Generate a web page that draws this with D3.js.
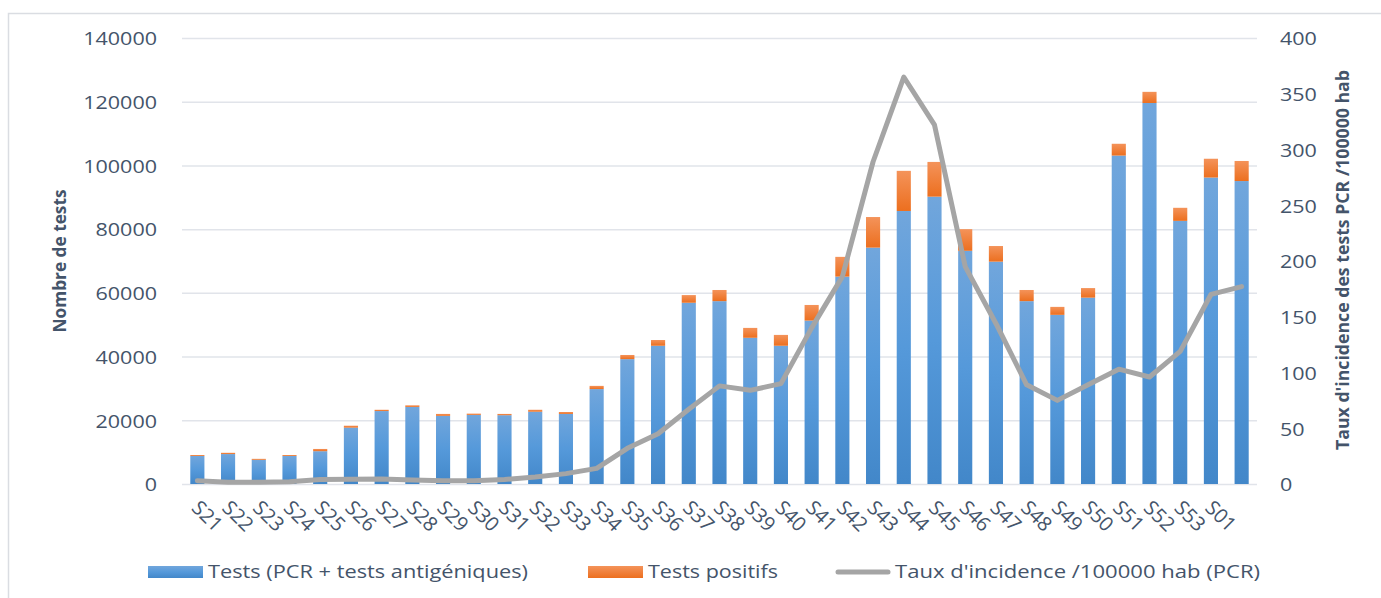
<!DOCTYPE html>
<html lang="fr">
<head>
    <meta charset="UTF-8">
    <title>Tests et taux d'incidence</title>
    <script src="https://d3js.org/d3.v7.min.js"></script>
    <style>
        body { margin: 0; background: #fff; }
        text { font-family: "Open Sans", "DejaVu Sans", sans-serif; fill: #44546a; }
        .grid line { stroke: #e1e4ea; stroke-width: 1.5; }
        .grid path { display: none; }
        .tick text { font-size: 19px; }
        .title { font-weight: bold; font-size: 17px; }
    </style>
</head>
<body>
<svg width="1381" height="598"></svg>

<script>
    var weeks = ["S21", "S22", "S23", "S24", "S25", "S26", "S27", "S28", "S29", "S30", "S31", "S32", "S33",
        "S34", "S35", "S36", "S37", "S38", "S39", "S40", "S41", "S42", "S43", "S44", "S45", "S46", "S47",
        "S48", "S49", "S50", "S51", "S52", "S53", "S01", "S02"];
    // the last week has no label on the original chart
    var weekLabels = weeks.slice(0, 34).concat([""]);

    var tests = [8800, 9400, 7600, 8800, 10300, 17700, 22900, 24200, 21400, 21700, 21600, 22700, 22000,
        29800, 39200, 43400, 56900, 57400, 45900, 43400, 51300, 65100, 74200, 85700, 90200, 73200, 69800,
        57400, 53100, 58500, 103100, 119600, 82600, 96200, 95100];
    var positifs = [300, 400, 300, 300, 700, 600, 400, 500, 600, 400, 400, 600, 600,
        1000, 1300, 1800, 2400, 3500, 3100, 3400, 4900, 6200, 9600, 12600, 10900, 6800, 4900,
        3500, 2500, 3000, 3700, 3500, 4100, 5900, 6300];
    var incidence = [3, 1.5, 1.5, 2, 4, 4.3, 4.5, 3.5, 3, 3, 4, 6.3, 9.3,
        14, 32, 45, 67, 88, 84, 90, 140, 186, 289, 365, 322, 195, 144,
        89, 75, 89, 103, 96, 119, 170, 177];

    var leftTicks = [0, 20000, 40000, 60000, 80000, 100000, 120000, 140000];
    var rightTicks = [0, 50, 100, 150, 200, 250, 300, 350, 400];

    var svg = d3.select("svg");
    var plotL = 182, plotR = 1257, plotT = 38, plotB = 484;

    var x = d3.scaleBand().domain(d3.range(weeks.length)).range([plotL, plotR])
        .paddingInner(0.54).paddingOuter(0.27);
    var y = d3.scaleLinear().domain([0, 140000]).range([plotB, plotT]);
    var y2 = d3.scaleLinear().domain([0, 400]).range([plotB, plotT]);

    // outer frame
    svg.append("rect")
        .attr("x", 8.5).attr("y", 13.5)
        .attr("width", 1400).attr("height", 620)
        .attr("fill", "none").attr("stroke", "#dadde2").attr("stroke-width", 1.5);

    var defs = svg.append("defs");
    var gb = defs.append("linearGradient").attr("id", "gBlue").attr("x1", 0).attr("y1", 0).attr("x2", 0).attr("y2", 1);
    gb.append("stop").attr("offset", "0%").attr("stop-color", "#71a6dc");
    gb.append("stop").attr("offset", "50%").attr("stop-color", "#5599da");
    gb.append("stop").attr("offset", "100%").attr("stop-color", "#4287c9");
    var go = defs.append("linearGradient").attr("id", "gOrange").attr("x1", 0).attr("y1", 0).attr("x2", 0).attr("y2", 1);
    go.append("stop").attr("offset", "0%").attr("stop-color", "#f4935a");
    go.append("stop").attr("offset", "100%").attr("stop-color", "#ec6f1f");

    // grid + left axis
    svg.append("g")
        .attr("class", "grid")
        .attr("transform", "translate(" + plotL + ",0)")
        .call(d3.axisLeft(y).tickValues(leftTicks).tickSize(-(plotR - plotL)).tickPadding(25)
            .tickFormat(function(d) { return d; }));

    svg.append("g")
        .attr("class", "grid")
        .attr("transform", "translate(" + plotR + ",0)")
        .call(d3.axisRight(y2).tickValues(rightTicks).tickSize(0).tickPadding(23));

    // tick labels are wide in the original
    svg.selectAll(".grid .tick text")
        .attr("dy", "0.36em")
        .attr("textLength", function(d) { return String(d).length * 12.3; })
        .attr("lengthAdjust", "spacingAndGlyphs");

    // bars
    svg.selectAll(".bar")
        .data(tests)
        .enter().append("rect")
        .attr("class", "bar")
        .attr("x", function(d, i) { return x(i); })
        .attr("y", function(d) { return y(d); })
        .attr("width", x.bandwidth())
        .attr("height", function(d) { return plotB - y(d); })
        .attr("fill", "url(#gBlue)");

    svg.selectAll(".pos")
        .data(positifs)
        .enter().append("rect")
        .attr("class", "pos")
        .attr("x", function(d, i) { return x(i); })
        .attr("y", function(d, i) { return y(tests[i] + d); })
        .attr("width", x.bandwidth())
        .attr("height", function(d, i) { return y(tests[i]) - y(tests[i] + d); })
        .attr("fill", "url(#gOrange)");

    // incidence line
    var line = d3.line()
        .x(function(d, i) { return x(i) + x.bandwidth() / 2; })
        .y(function(d) { return y2(d); });

    svg.append("path")
        .datum(incidence)
        .attr("d", line)
        .attr("fill", "none")
        .attr("stroke", "#a5a5a5")
        .attr("stroke-width", 5)
        .attr("stroke-linejoin", "round")
        .attr("stroke-linecap", "round");

    // week labels, rotated
    svg.selectAll(".wk")
        .data(weekLabels)
        .enter().append("text")
        .attr("class", "wk")
        .attr("font-size", "20px")
        .attr("transform", function(d, i) {
            return "translate(" + (x(i) + x.bandwidth() / 2 - 2) + "," + 504 + ") rotate(45)";
        })
        .attr("dy", "0.35em")
        .text(function(d) { return d; });

    // axis titles
    svg.append("text")
        .attr("class", "title")
        .attr("transform", "translate(66,261) rotate(-90)")
        .attr("text-anchor", "middle")
        .attr("textLength", 143).attr("lengthAdjust", "spacingAndGlyphs")
        .text("Nombre de tests");

    svg.append("text")
        .attr("class", "title")
        .attr("transform", "translate(1349,260) rotate(-90)")
        .attr("text-anchor", "middle")
        .attr("font-size", "18px")
        .attr("textLength", 380).attr("lengthAdjust", "spacingAndGlyphs")
        .text("Taux d'incidence des tests PCR /100000 hab");

    // legend
    var legend = svg.append("g").attr("transform", "translate(0,572)");
    legend.append("rect").attr("x", 148).attr("y", -6).attr("width", 55).attr("height", 12).attr("fill", "url(#gBlue)");
    legend.append("text").attr("x", 208).attr("dy", "0.35em").attr("font-size", "18px")
        .attr("textLength", 320).attr("lengthAdjust", "spacingAndGlyphs")
        .text("Tests (PCR + tests antigéniques)");
    legend.append("rect").attr("x", 588).attr("y", -6).attr("width", 55).attr("height", 12).attr("fill", "url(#gOrange)");
    legend.append("text").attr("x", 648).attr("dy", "0.35em").attr("font-size", "18px")
        .attr("textLength", 130).attr("lengthAdjust", "spacingAndGlyphs")
        .text("Tests positifs");
    legend.append("line").attr("x1", 838).attr("x2", 888).attr("y1", 0).attr("y2", 0)
        .attr("stroke", "#a5a5a5").attr("stroke-width", 5).attr("stroke-linecap", "round");
    legend.append("text").attr("x", 895).attr("dy", "0.35em").attr("font-size", "18px")
        .attr("textLength", 365).attr("lengthAdjust", "spacingAndGlyphs")
        .text("Taux d'incidence /100000 hab (PCR)");
</script>
</body>
</html>
